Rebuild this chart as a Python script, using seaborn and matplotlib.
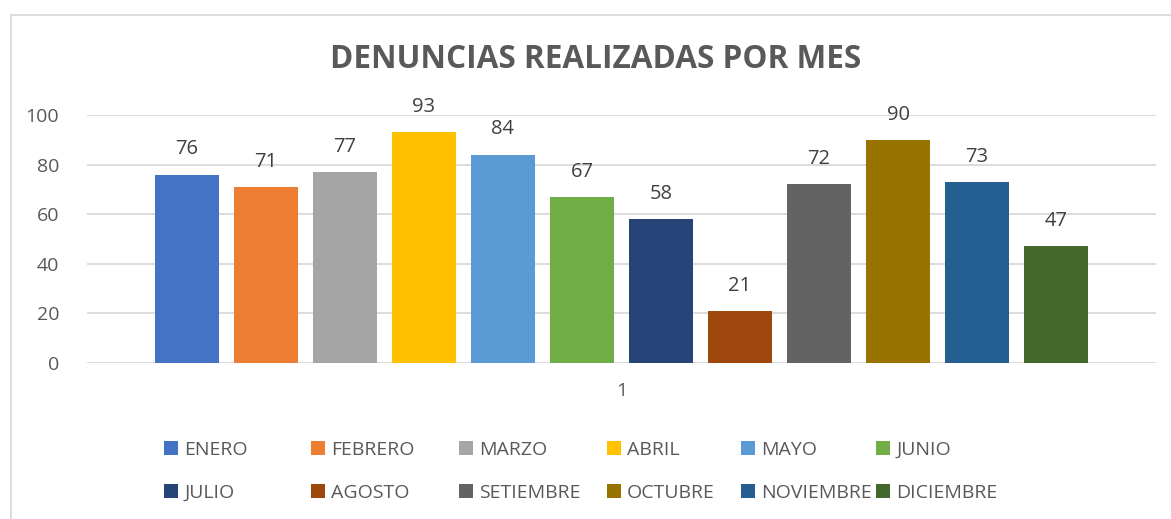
import numpy as np
import pandas as pd
import matplotlib
matplotlib.use("Agg")
import matplotlib.pyplot as plt
import matplotlib.patches as mpatches
import seaborn as sns

meses = ['ENERO', 'FEBRERO', 'MARZO', 'ABRIL', 'MAYO', 'JUNIO',
         'JULIO', 'AGOSTO', 'SETIEMBRE', 'OCTUBRE', 'NOVIEMBRE', 'DICIEMBRE']
denuncias = [76, 71, 77, 93, 84, 67, 58, 21, 72, 90, 73, 47]
grupo = ['1'] * 12
colores = ['#4472C4', '#ED7D31', '#A5A5A5', '#FFC000', '#5B9BD5', '#70AD47',
           '#264478', '#9E480E', '#636363', '#997300', '#255E91', '#43682B']

df = pd.DataFrame({'grupo': grupo, 'mes': meses, 'valor': denuncias})

sns.set_style('white')
plt.rcParams['font.family'] = ['Open Sans', 'DejaVu Sans']
gris = '#595959'

fig = plt.figure(figsize=(11.71, 5.19), dpi=100)
ax = fig.add_axes([87/1171, 1-363/519, (1156-87)/1171, (363-115)/519])

# chart area border (Excel style)
fig.patches.append(mpatches.Rectangle((11/1171, -0.1), 1.2, (519-15)/519 + 0.1,
                                      transform=fig.transFigure, fill=False,
                                      edgecolor='#D9D9D9', lw=1.3))

sns.barplot(data=df, x='grupo', y='valor', hue='mes', hue_order=meses,
            palette=colores, width=0.887, gap=0.2, saturation=1, linewidth=0, ax=ax)

for c in ax.containers:
    ax.bar_label(c, padding=11, fontsize=14.5, color='#404040')

ax.set_ylim(0, 100)
ax.set_yticks(range(0, 101, 20))
ax.set_xlim(-0.5, 0.5)
ax.yaxis.grid(True, color='#D9D9D9', lw=1.3)
ax.set_axisbelow(True)
for s in ax.spines.values():
    s.set_visible(False)
ax.tick_params(axis='y', length=0, labelsize=14, labelcolor=gris, pad=20)
ax.tick_params(axis='x', length=0, labelsize=14, labelcolor=gris, pad=14)
ax.set_xlabel('')
ax.set_ylabel('')

fig.text(596/1171, 1-60/519, 'DENUNCIAS REALIZADAS POR MES', ha='center', va='center',
         fontsize=22.7, fontweight='bold', color=gris)

# legend: six columns of two entries each, placed like Excel does
handles, labels = ax.get_legend_handles_labels()
ax.get_legend().remove()
col_x = [164, 311, 459, 607, 741, 876]
for j, x in enumerate(col_x):
    leg = fig.legend([handles[j], handles[j + 6]], [labels[j], labels[j + 6]],
                     ncol=1, loc='center left', bbox_to_anchor=(x/1171, 1-471.5/519),
                     frameon=False, fontsize=14, handlelength=0.72, handleheight=0.72,
                     handletextpad=0.31, labelspacing=1.3, borderpad=0,
                     borderaxespad=0, labelcolor=gris)

fig.savefig('out.png', dpi=100, facecolor='white')
